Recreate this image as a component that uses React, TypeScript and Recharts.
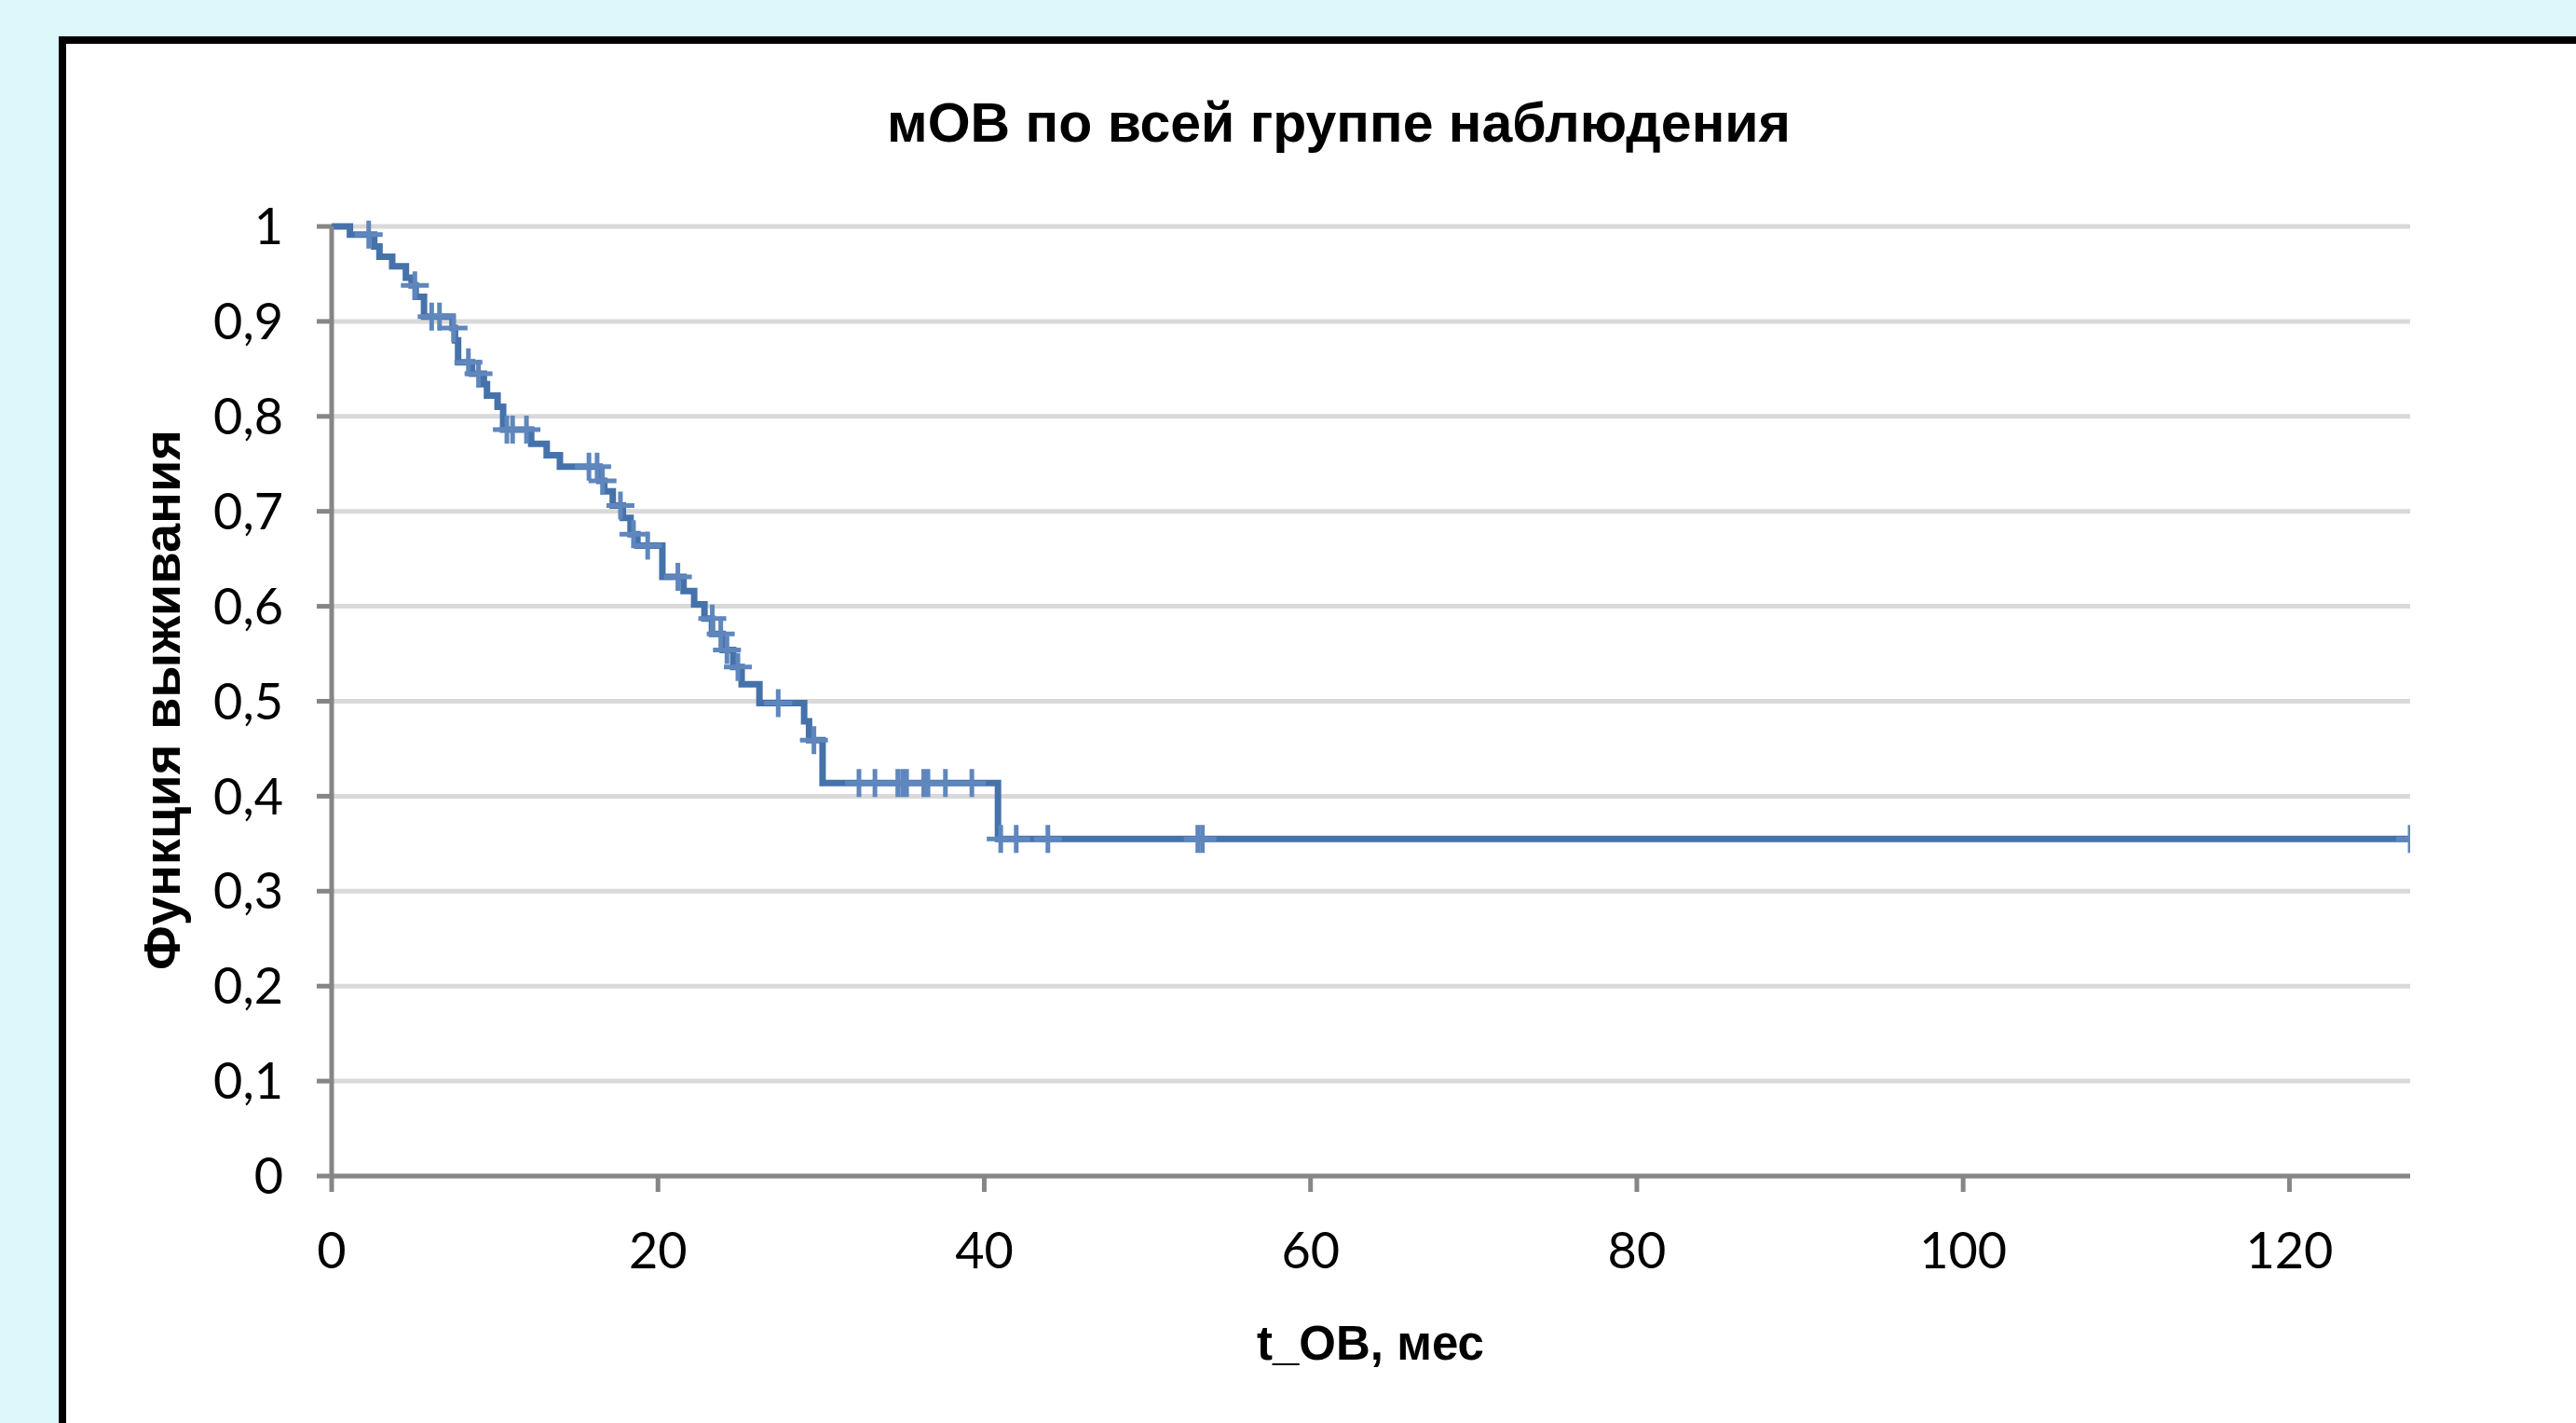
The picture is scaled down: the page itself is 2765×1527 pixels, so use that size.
import React from "react";
import {
  ComposedChart, Line, Scatter, XAxis, YAxis, CartesianGrid,
} from "recharts";

// Kaplan–Meier steps: time (months) of each drop and survival after it
const stepTimes = [
  0, 1.12, 2.61, 2.93, 3.71, 4.55, 4.9, 5.15, 5.66, 7.41, 7.56, 7.75, 8.61, 9.33, 9.52,
  10.17, 10.51, 12.23, 13.18, 13.99, 16.42, 16.71, 17.23, 17.85, 18.32, 18.74, 20.27,
  21.57, 22.22, 22.85, 23.31, 23.97, 24.61, 25.13, 26.22, 28.96, 29.26, 30.09, 40.84, 127.4,
];
const stepSurv = [
  1, 0.9915, 0.979, 0.968, 0.958, 0.946, 0.938, 0.926, 0.905, 0.893, 0.88, 0.857, 0.845, 0.834, 0.822,
  0.81, 0.786, 0.771, 0.759, 0.747, 0.732, 0.721, 0.706, 0.693, 0.676, 0.664, 0.631,
  0.616, 0.602, 0.587, 0.571, 0.554, 0.536, 0.518, 0.498, 0.479, 0.459, 0.414, 0.355, 0.355,
];

// censored observations
const censorTimes = [
  2.27, 5.1, 6.13, 6.61, 7.47, 8.38, 9.0, 10.74, 11.09, 11.94, 15.77, 16.27, 16.6, 17.7,
  18.5, 19.37, 21.22, 23.33, 23.85, 24.23, 24.9, 27.37, 29.56, 32.32, 33.3, 34.7, 34.99,
  35.24, 36.29, 36.55, 37.62, 39.24, 41.01, 41.96, 43.9, 53.09, 53.37, 127.4,
];
const censorSurv = [
  0.9915, 0.938, 0.905, 0.905, 0.893, 0.857, 0.845, 0.786, 0.786, 0.786, 0.747, 0.747, 0.732, 0.706,
  0.676, 0.664, 0.631, 0.587, 0.571, 0.554, 0.536, 0.498, 0.459, 0.414, 0.414, 0.414, 0.414,
  0.414, 0.414, 0.414, 0.414, 0.414, 0.355, 0.355, 0.355, 0.355, 0.355, 0.355,
];

const xTicks = [0, 20, 40, 60, 80, 100, 120];
const yTicks = [0, 0.1, 0.2, 0.3, 0.4, 0.5, 0.6, 0.7, 0.8, 0.9, 1];

const title = "мОВ по всей группе наблюдения";
const xTitle = "t_ОВ, мес";
const yTitle = "Функция выживания";

const steps = stepTimes.map((t, i) => ({ t, s: stepSurv[i] }));
const censors = censorTimes.map((t, i) => ({ t, s: censorSurv[i] }));

const W = 2765;
const H = 1527;
const AXIS = "#868686";
const LINE = "#4672AA";
const MARK = "#5F87BD";

function Plus(props: any) {
  const { cx, cy } = props;
  if (cx == null || cy == null) return null;
  const r = 15;
  return (
    <path
      d={`M${cx - r},${cy}H${cx + r}M${cx},${cy - r}V${cy + r}`}
      stroke={MARK}
      strokeWidth={5}
      fill="none"
    />
  );
}

const fmtY = (v: number) => (v === 0 || v === 1 ? String(v) : v.toFixed(1).replace(".", ","));

export default function App() {
  const tick = { fontSize: 54, fill: "#000", fontFamily: "Lato" };
  return (
    <div style={{ position: "absolute", left: 0, top: 0, width: W, height: H, overflow: "hidden", background: "#DDF8FA" }}>
      <div
        style={{
          position: "absolute", left: 63, top: 39, width: W, height: 1700,
          border: "8px solid #000", background: "#fff", boxSizing: "border-box",
        }}
      />
      <div style={{ position: "absolute", left: 0, top: 0 }}>
        <ComposedChart width={W} height={H} margin={{ top: 243, right: 178, bottom: 165, left: 0 }}>
          <CartesianGrid horizontal vertical={false} stroke="#D9D9D9" strokeWidth={5} />
          <XAxis
            type="number"
            dataKey="t"
            domain={[0, 127.4]}
            ticks={xTicks}
            allowDataOverflow
            height={100}
            tick={tick}
            tickSize={17}
            tickMargin={44}
            axisLine={{ stroke: AXIS, strokeWidth: 5 }}
            tickLine={{ stroke: AXIS, strokeWidth: 5 }}
          />
          <YAxis
            type="number"
            domain={[0, 1]}
            ticks={yTicks}
            width={356}
            tick={tick}
            tickSize={16}
            tickMargin={36}
            tickFormatter={fmtY}
            axisLine={{ stroke: AXIS, strokeWidth: 5 }}
            tickLine={{ stroke: AXIS, strokeWidth: 5 }}
          />
          <Line
            data={steps}
            dataKey="s"
            type="stepAfter"
            stroke={LINE}
            strokeWidth={7}
            dot={false}
            activeDot={false}
            isAnimationActive={false}
          />
          <Scatter data={censors} dataKey="s" shape={<Plus />} isAnimationActive={false} />
        </ComposedChart>
      </div>
      <svg width={W} height={H} style={{ position: "absolute", left: 0, top: 0, pointerEvents: "none" }}>
        <g fontFamily="'Liberation Sans', Arial, sans-serif" fontWeight="bold" fill="#000">
          <text x={1437} y={152} fontSize={59} textAnchor="middle">{title}</text>
          <text x={1471} y={1459} fontSize={51} textAnchor="middle">{xTitle}</text>
          <text x={193} y={751} fontSize={56} textAnchor="middle" transform="rotate(-90 193 751)">{yTitle}</text>
        </g>
      </svg>
    </div>
  );
}
